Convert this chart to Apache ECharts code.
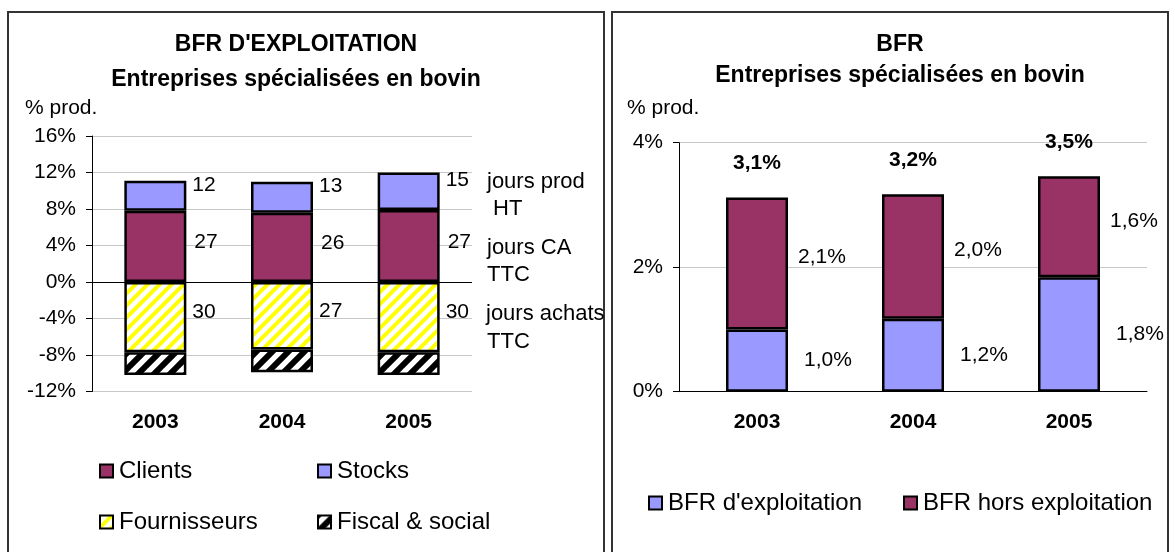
<!DOCTYPE html>
<html>
<head>
<meta charset="utf-8">
<script src="https://cdn.jsdelivr.net/npm/echarts@6/dist/echarts.min.js"></script>
<style>
html, body { margin: 0; padding: 0; background: #fff; }
#chart { width: 1175px; height: 552px; }
</style>
</head>
<body>
<div id="chart"></div>
<script>
// années
const years = ['2003', '2004', '2005']

// BFR d'exploitation (% prod.)
const clients = [7.8, 7.6, 7.9]
const stocks = [3.3, 3.4, 4.1]
const fournisseurs = [-7.7, -7.4, -7.7]
const fiscalSocial = [-2.5, -2.5, -2.5]

// nombre de jours affichés à côté des barres
const joursStocks = [12, 13, 15]
const joursClients = [27, 26, 27]
const joursFournisseurs = [30, 27, 30]

// BFR (% prod.)
const bfrExploitation = [1.0, 1.17, 1.84]
const bfrHorsExploitation = [2.12, 2.0, 1.62]

// graduations
const leftAxis = { min: -12, max: 16, interval: 4 }
const rightAxis = { min: 0, max: 4, interval: 2 }

const font = 'Liberation Sans, Arial, sans-serif'
const pct = v => v.toFixed(1).replace('.', ',') + '%'

// hachures en diagonale
function stripes(color, lw, size) {
  const c = document.createElement('canvas')
  c.width = size
  c.height = size
  const ctx = c.getContext('2d')
  ctx.fillStyle = '#fff'
  ctx.fillRect(0, 0, size, size)
  ctx.strokeStyle = color
  ctx.lineWidth = lw
  ctx.beginPath()
  for (let k = -size; k <= size; k += size) {
    ctx.moveTo(k - 2, size + 2)
    ctx.lineTo(k + size + 2, -2)
  }
  ctx.stroke()
  return { image: c, repeat: 'repeat' }
}

function legendAt(name, left, top) {
  return {
    data: [name],
    left: left,
    top: top,
    padding: 0,
    icon: 'rect',
    itemWidth: 13,
    itemHeight: 13,
    selectedMode: false,
    itemStyle: { borderColor: '#000', borderWidth: 2 },
    textStyle: { fontSize: 24, color: '#000', fontFamily: font, padding: [0, 0, 0, 1] }
  }
}

function txt(text, x, y, size, bold, align) {
  return {
    type: 'text',
    x: x,
    y: y,
    style: {
      text: text,
      font: (bold ? 'bold ' : '') + size + 'px ' + font,
      fill: '#000',
      textAlign: align || 'left',
      textVerticalAlign: 'middle'
    }
  }
}

const border = { borderColor: '#000', borderWidth: 2.5 }
const lbl = { show: true, position: 'right', fontSize: 21, color: '#000', fontFamily: font }

const myChart = echarts.init(document.getElementById('chart'))
myChart.setOption({
  animation: false,
  textStyle: { fontFamily: font },
  graphic: [
    { type: 'rect', shape: { x: 8, y: 12, width: 596, height: 560 }, style: { fill: 'none', stroke: '#333', lineWidth: 2 } },
    { type: 'rect', shape: { x: 612, y: 12, width: 556, height: 560 }, style: { fill: 'none', stroke: '#333', lineWidth: 2 } },
    txt("BFR D'EXPLOITATION", 296, 45, 23, true, 'center'),
    txt('Entreprises spécialisées en bovin', 296, 80, 23, true, 'center'),
    txt('% prod.', 25, 108, 21),
    txt('BFR', 900, 45, 23, true, 'center'),
    txt('Entreprises spécialisées en bovin', 900, 76, 23, true, 'center'),
    txt('% prod.', 627, 108, 21),
    txt('jours prod', 487, 182, 22),
    txt('HT', 493, 209, 22),
    txt('jours CA', 487, 248, 22),
    txt('TTC', 487, 275, 22),
    txt('jours achats', 486, 314, 22),
    txt('TTC', 487, 342, 22)
  ],
  legend: [
    legendAt('Clients', 99, 459),
    legendAt('Stocks', 317, 459),
    legendAt('Fournisseurs', 99, 510),
    legendAt('Fiscal & social', 317, 510),
    legendAt("BFR d'exploitation", 648, 491),
    legendAt('BFR hors exploitation', 903, 491)
  ],
  grid: [
    { left: 92, top: 136, width: 380, height: 255.5 },
    { left: 679, top: 142.7, width: 468, height: 249 }
  ],
  xAxis: [
    {
      gridIndex: 0,
      type: 'category',
      data: years,
      axisLine: { show: false, onZero: false },
      axisTick: { show: false },
      axisLabel: { fontSize: 21, fontWeight: 'bold', color: '#000', margin: 20 }
    },
    {
      gridIndex: 1,
      type: 'category',
      data: years,
      axisLine: { lineStyle: { color: '#000' } },
      axisTick: { length: 6, lineStyle: { color: '#000' } },
      axisLabel: { fontSize: 21, fontWeight: 'bold', color: '#000', margin: 20 }
    }
  ],
  yAxis: [
    {
      gridIndex: 0,
      type: 'value',
      min: leftAxis.min,
      max: leftAxis.max,
      interval: leftAxis.interval,
      axisLine: { show: true, lineStyle: { color: '#000' } },
      axisTick: { show: true, length: 6, lineStyle: { color: '#000' } },
      axisLabel: { formatter: '{value}%', fontSize: 21, color: '#000', margin: 16 },
      splitLine: { lineStyle: { color: '#c8c8c8' } }
    },
    {
      gridIndex: 1,
      type: 'value',
      min: rightAxis.min,
      max: rightAxis.max,
      interval: rightAxis.interval,
      axisLine: { show: true, lineStyle: { color: '#000' } },
      axisTick: { show: true, length: 6, lineStyle: { color: '#000' } },
      axisLabel: { formatter: '{value}%', fontSize: 21, color: '#000', margin: 16 },
      splitLine: { lineStyle: { color: '#c8c8c8' } }
    }
  ],
  series: [
    {
      name: 'Clients', type: 'bar', stack: 'l', xAxisIndex: 0, yAxisIndex: 0, barWidth: 62,
      data: clients,
      itemStyle: { color: '#993366', ...border },
      label: { ...lbl, distance: 8, offset: [0, -4], formatter: p => joursClients[p.dataIndex] },
      markLine: {
        silent: true, symbol: 'none', label: { show: false },
        lineStyle: { color: '#000', type: 'solid', width: 1 },
        data: [{ yAxis: 0 }]
      }
    },
    {
      name: 'Stocks', type: 'bar', stack: 'l', xAxisIndex: 0, yAxisIndex: 0, barWidth: 62,
      data: stocks,
      itemStyle: { color: '#9999ff', ...border },
      label: { ...lbl, distance: 6, offset: [0, -11], formatter: p => joursStocks[p.dataIndex] }
    },
    {
      name: 'Fournisseurs', type: 'bar', stack: 'l', xAxisIndex: 0, yAxisIndex: 0, barWidth: 62,
      data: fournisseurs,
      itemStyle: { color: stripes('#ffff00', 4, 12), ...border },
      label: { ...lbl, distance: 6, offset: [0, -5], formatter: p => joursFournisseurs[p.dataIndex] }
    },
    {
      name: 'Fiscal & social', type: 'bar', stack: 'l', xAxisIndex: 0, yAxisIndex: 0, barWidth: 62,
      data: fiscalSocial,
      itemStyle: { color: stripes('#000', 6, 16), ...border }
    },
    {
      name: "BFR d'exploitation", type: 'bar', stack: 'r', xAxisIndex: 1, yAxisIndex: 1, barWidth: 62,
      data: bfrExploitation,
      itemStyle: { color: '#9999ff', ...border },
      label: { ...lbl, distance: 16, formatter: p => pct(p.value) }
    },
    {
      name: 'BFR hors exploitation', type: 'bar', stack: 'r', xAxisIndex: 1, yAxisIndex: 1, barWidth: 62,
      data: bfrHorsExploitation,
      itemStyle: { color: '#993366', ...border },
      label: { ...lbl, distance: 10, offset: [0, -6], formatter: p => pct(p.value) },
      markPoint: {
        symbol: 'rect',
        symbolSize: 0,
        silent: true,
        label: { show: true, position: 'top', distance: 24, fontSize: 21, fontWeight: 'bold', color: '#000', formatter: p => pct(p.value) },
        data: years.map((y, i) => {
          const total = bfrExploitation[i] + bfrHorsExploitation[i]
          return { coord: [i, total], value: total }
        })
      }
    }
  ]
})
</script>
</body>
</html>
